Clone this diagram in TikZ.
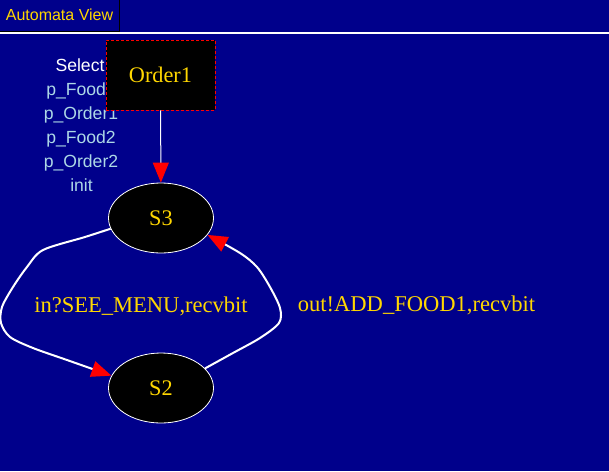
\documentclass[tikz,border=0pt]{standalone}
\usepackage{fontspec}
\setmainfont{Liberation Serif}
\setsansfont{Liberation Sans}
\definecolor{viewblue}{RGB}{0, 0, 139}
\definecolor{labgold}{RGB}{255, 215, 0}
\definecolor{varblue}{RGB}{173, 216, 230}
\definecolor{tipred}{RGB}{255, 0, 0}
\usetikzlibrary{shapes.geometric, arrows.meta, positioning}

\begin{document}
\begin{tikzpicture}[x=0.75pt, y=-0.75pt,
  state/.style={ellipse, draw=white, line width=0.6pt, fill=black, minimum width=78.75pt, minimum height=52.5pt, inner sep=0pt, text=labgold, font=\fontsize{16.7}{18}\selectfont},
  procbox/.style={rectangle, draw=tipred, dash pattern=on 2.25pt off 1.5pt, line width=0.6pt, fill=black, minimum width=81.75pt, minimum height=52.5pt, text=labgold, font=\fontsize{16.7}{18}\selectfont},
  varname/.style={anchor=base, text=varblue, font=\sffamily\fontsize{13.2}{15}\selectfont},
  translabel/.style={anchor=base, text=labgold, font=\fontsize{16.9}{18}\selectfont},
  arr/.style={-{Triangle[length=15pt, width=12pt, color=tipred]}, white},
]
  % background and tab
  \fill[viewblue] (0,0) rectangle (609,471);
  \useasboundingbox (0,0) rectangle (609,471);
  \draw[black, line width=0.75pt] (0,31) -- (119,31) -- (119,0);
  \node[anchor=base, text=labgold, font=\sffamily\fontsize{12}{14}\selectfont] (tab) at (59.5,21) {Automata View};
  \draw[white, line width=1.5pt] (0,33) -- (609,33);

  % variable list
  \node[varname, text=white] (vsel) at (80,71) {Select};
  \node[varname] (vfood1) at (81,95) {p\_Food1};
  \node[varname] (vorder1) at (81,119) {p\_Order1};
  \node[varname] (vfood2) at (81,143) {p\_Food2};
  \node[varname] (vorder2) at (81,167) {p\_Order2};
  \node[varname] (vinit) at (81.5,191) {init};

  % process and states
  \node[procbox] (order) at (160.5,75) {Order1};
  \node[state] (s3) at (161,218) {S3};
  \node[state] (s2) at (161,388) {S2};

  \draw[arr, line width=0.75pt] (order) -- (s3);
  \draw[arr, line width=1.5pt] plot[smooth, tension=0.5] coordinates {(s3.192) (85,237) (43,250) (27,267) (13,287) (2,307) (1,323) (10,337) (33,348) (67,360) (s2.166)};
  \draw[arr, line width=1.5pt] plot[smooth, tension=0.5] coordinates {(s2.24) (233,353) (260,338) (279,323) (280,308) (270,287) (257,267) (240,253) (s3.340)};

  % edge labels
  \node[translabel] (lblin) at (141,312) {in?SEE\_MENU,recvbit};
  \node[translabel] (lblout) at (416.5,311) {out!ADD\_FOOD1,recvbit};
\end{tikzpicture}
\end{document}
